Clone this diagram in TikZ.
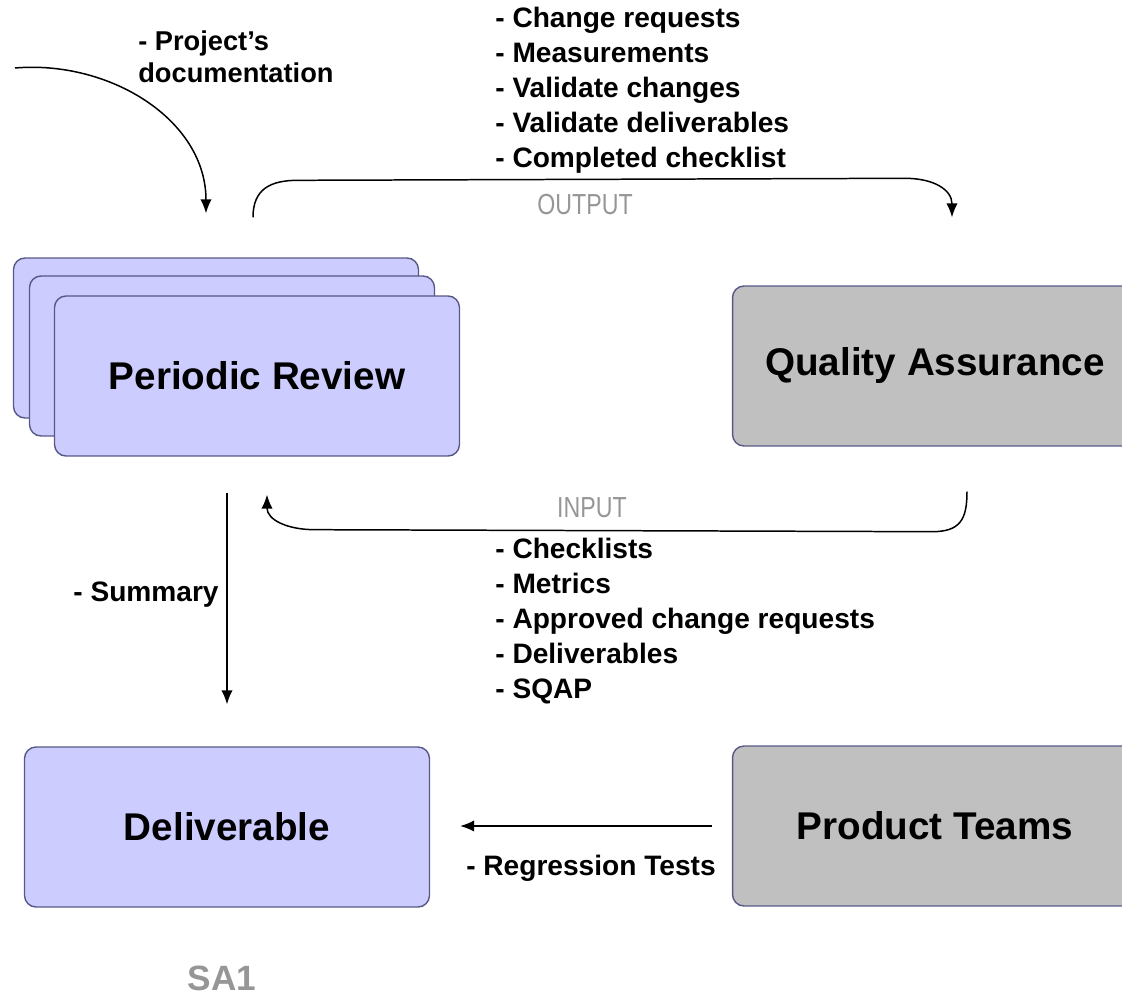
\documentclass[tikz,border=0pt]{standalone}
\usepackage{fontspec}
\setmainfont{Liberation Sans}
\usetikzlibrary{calc,arrows.meta}

\definecolor{boxblue}{RGB}{204,204,255}
\definecolor{boxgray}{RGB}{192,192,192}
\definecolor{boxline}{RGB}{88,88,135}
\definecolor{taggray}{RGB}{150,150,150}

\tikzset{
  stage/.style={draw=boxline, line width=0.8pt, rounded corners=6.5pt, fill=boxblue,
    minimum width=8.1cm, minimum height=3.2cm, font=\bfseries\fontsize{22}{26}\selectfont},
  team/.style={stage, fill=boxgray},
  flow/.style={line width=0.85pt, -{Latex[length=8pt,width=6.5pt]}},
  items/.style={align=left, anchor=north west, inner sep=0pt,
    font=\bfseries\fontsize{16}{19.85}\selectfont},
  tag/.style={text=taggray, font=\fontsize{16.5}{18}\selectfont},
}
\newcommand{\narrowtag}[1]{\scalebox{0.8}[1]{#1}}

\begin{document}
\begin{tikzpicture}[x=0.02cm, y=-0.02cm]
%%%%% START %%%%%
\useasboundingbox (0,0) rectangle (1122,1000);
\clip (0,0) rectangle (1122,1000);

% boxes
\node[stage] (pr3) at (216,338) {};
\node[stage] (pr2) at (232,356) {};
\node[stage] (pr1) at (257,376) {Periodic Review};
\node[team] (qa) at (935,366) {Quality Assurance};
\node[stage] (del) at (227,827) {Deliverable};
\node[team] (pt) at (935,826) {Product Teams};

% free ends of the arcs
\coordinate (docin) at (15,68);
\coordinate (docend) at ($(pr3.north)+(-10,-44)$);
\coordinate (outa) at ($(pr1.north)+(-4,-78)$);
\coordinate (outb) at ($(qa.north)+(17,-68)$);
\coordinate (ina) at ($(qa.south)+(32,45)$);
\coordinate (inb) at ($(pr1.south)+(10,38)$);

% connectors
\draw[flow] (docin) .. controls (110,60) and (206,120) .. (docend);
\draw[flow] (outa) .. controls +(0,-28) and +(-28,0) .. +(45,-37)
  -- ($(outb)+(-47,-39)$) .. controls +(28,0) and +(0,-28) .. (outb);
\draw[flow] (ina) .. controls +(0,28) and +(28,0) .. +(-35,40)
  -- ($(inb)+(48,35)$) .. controls +(-28,0) and +(0,25) .. (inb);
\draw[flow] ($(pr1.south -| del.north)+(0,36)$) -- ($(del.north)+(0,-42)$);
\draw[flow] ($(pt.west)+(-20,0)$) -- ($(del.east |- pt.west)+(30,0)$);

% labels
\node[items, font=\bfseries\fontsize{15.5}{18.7}\selectfont] (doc) at (138,30) {- Project’s\\documentation};
\node[items] (outlist) at (495,7) {- Change requests\\- Measurements\\- Validate changes\\- Validate deliverables\\- Completed checklist};
\node[tag] (outtag) at (585,205) {\narrowtag{OUTPUT}};
\node[tag] (intag) at (592,508) {\narrowtag{INPUT}};
\node[items] (inlist) at (495,538) {- Checklists\\- Metrics\\- Approved change requests\\- Deliverables\\- SQAP};
\node[anchor=east, inner sep=0pt, font=\bfseries\fontsize{16}{19}\selectfont] (sum) at (219,595) {- Summary};
\node[font=\bfseries\fontsize{16}{19}\selectfont] (reg) at (591,868) {- Regression Tests};
\node[text=taggray, font=\bfseries\fontsize{20}{24}\selectfont] (sa) at (222,978) {SA1};

%%%%% END %%%%%
\end{tikzpicture}
\end{document}
